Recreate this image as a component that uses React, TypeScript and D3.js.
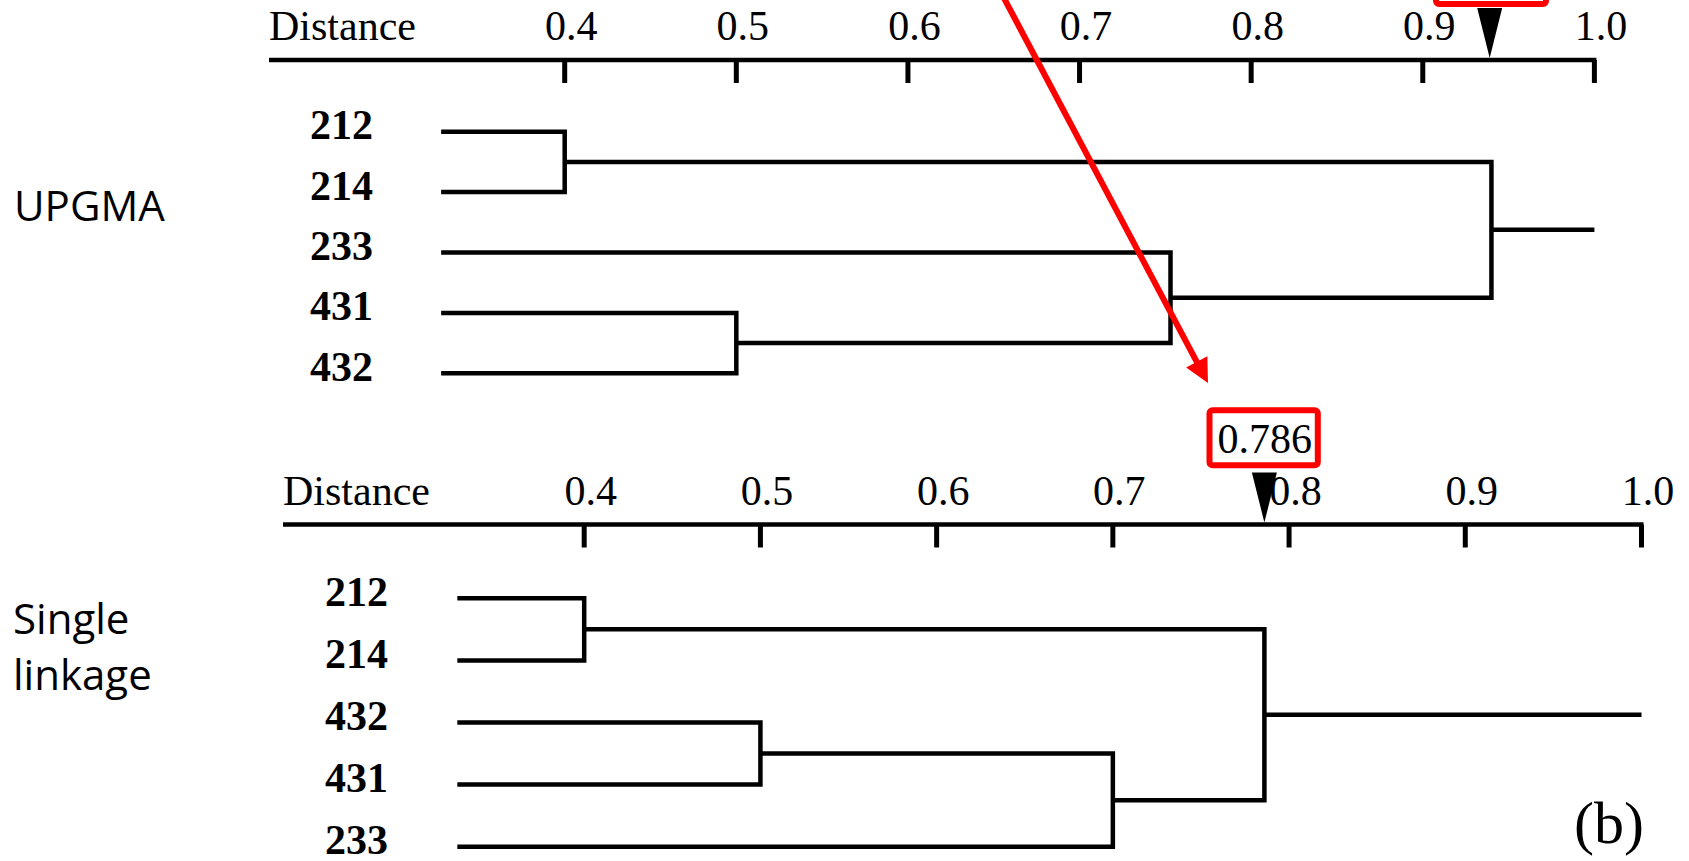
import React from 'react';
import * as d3 from 'd3';

// tick values on both distance axes
const distanceTicks = [0.4, 0.5, 0.6, 0.7, 0.8, 0.9, 1.0];

// UPGMA tree: leaves top to bottom, merges as [childA, childB, height]
// (indices 0..4 are leaves, 5.. are the clusters made by earlier merges)
const upgmaLeaves = ['212', '214', '233', '431', '432'];
const upgmaMerges: [number, number, number][] = [
  [0, 1, 0.4],
  [3, 4, 0.5],
  [2, 6, 0.753],
  [5, 7, 0.94],
];
const upgmaCut = 0.939;

// Single linkage tree
const singleLeaves = ['212', '214', '432', '431', '233'];
const singleMerges: [number, number, number][] = [
  [0, 1, 0.4],
  [2, 3, 0.5],
  [6, 4, 0.7],
  [5, 7, 0.786],
];
const singleCut = 0.786;
const singleCutLabel = '0.786';

const leafStart = 0.328;
const stemEnd = 1.0;

const SERIF = '"Liberation Serif", "Times New Roman", serif';
const SANS = '"Open Sans", "Noto Sans", sans-serif';

type PanelProps = {
  leaves: string[];
  merges: [number, number, number][];
  cut: number;
  axisY: number;
  axisStart: number;
  xRange: [number, number];
  leafY: [number, number];
  labelRight: number;
};

function Panel({ leaves, merges, cut, axisY, axisStart, xRange, leafY, labelRight }: PanelProps) {
  const x = d3.scaleLinear().domain([0.4, 1.0]).range(xRange);
  const y = d3.scalePoint<string>().domain(leaves).range(leafY);

  const pts = leaves.map(l => ({ x: x(leafStart), y: y(l) as number }));
  const paths: string[] = [];
  merges.forEach(([a, b, h]) => {
    const p = pts[a];
    const q = pts[b];
    const nx = x(h);
    const ny = (p.y + q.y) / 2;
    const path = d3.path();
    path.moveTo(p.x, p.y);
    path.lineTo(nx, p.y);
    path.lineTo(nx, q.y);
    path.lineTo(q.x, q.y);
    paths.push(path.toString());
    pts.push({ x: nx, y: ny });
  });
  const root = pts[pts.length - 1];

  const cx = x(cut);

  return (
    <g>
      {/* axis */}
      <text x={axisStart} y={axisY - 20} fontFamily={SERIF} fontSize={42}>Distance</text>
      <line x1={axisStart} x2={x(1.0) + 2} y1={axisY} y2={axisY} stroke="black" strokeWidth={4.5} />
      {distanceTicks.map(t => (
        <g key={t}>
          <line x1={x(t)} x2={x(t)} y1={axisY} y2={axisY + 23} stroke="black" strokeWidth={5} />
          <text x={x(t) + 6.5} y={axisY - 20} textAnchor="middle" fontFamily={SERIF} fontSize={42}>
            {d3.format('.1f')(t)}
          </text>
        </g>
      ))}
      {/* cut marker */}
      <path d={`M${cx - 12.5},${axisY - 52}L${cx + 12.5},${axisY - 52}L${cx},${axisY - 2}Z`} fill="black" />

      {/* leaf labels */}
      {leaves.map(l => (
        <text key={l} x={labelRight} y={(y(l) as number) + 7.5} textAnchor="end"
          fontFamily={SERIF} fontWeight="bold" fontSize={42}>{l}</text>
      ))}

      {/* branches */}
      {paths.map((d, i) => (
        <path key={i} d={d} fill="none" stroke="black" strokeWidth={4.5} strokeLinejoin="miter" />
      ))}
      <line x1={root.x} x2={x(stemEnd)} y1={root.y} y2={root.y} stroke="black" strokeWidth={4.5} />
    </g>
  );
}

export default function App() {
  const W = 1689;
  const H = 861;

  // red arrow pointing from the upper cut box down to the lower one
  const start: [number, number] = [994.4, -20];
  const tip: [number, number] = [1208, 383];
  const ang = Math.atan2(tip[1] - start[1], tip[0] - start[0]);
  const headLen = 24;
  const headHalf = 12;
  const bx = tip[0] - headLen * Math.cos(ang);
  const by = tip[1] - headLen * Math.sin(ang);
  const nx = -Math.sin(ang);
  const ny = Math.cos(ang);

  return (
    <div style={{ position: 'absolute', left: 0, top: 0 }}>
      <svg width={W} height={H} style={{ display: 'block', background: 'white' }}>
        <Panel
          leaves={upgmaLeaves}
          merges={upgmaMerges}
          cut={upgmaCut}
          axisY={60}
          axisStart={269}
          xRange={[564.7, 1594.4]}
          leafY={[131.7, 373.3]}
          labelRight={373}
        />
        <Panel
          leaves={singleLeaves}
          merges={singleMerges}
          cut={singleCut}
          axisY={524.5}
          axisStart={283}
          xRange={[584.2, 1641.5]}
          leafY={[598.3, 846.7]}
          labelRight={388}
        />

        {/* method names */}
        <text x={14} y={221} fontFamily={SANS} fontSize={42}>UPGMA</text>
        <text x={13} y={634} fontFamily={SANS} fontSize={42}>Single</text>
        <text x={13} y={690} fontFamily={SANS} fontSize={42}>linkage</text>

        {/* panel tag */}
        <text x={1574} y={843} fontFamily={SERIF} fontSize={60}>(b)</text>

        {/* red highlight boxes */}
        <rect x={1436} y={-40} width={110} height={44} rx={3} fill="none" stroke="red" strokeWidth={6} />
        <rect x={1209.5} y={410.3} width={108.3} height={55} rx={3} fill="none" stroke="red" strokeWidth={6} />
        <text x={1264.7} y={453} textAnchor="middle" fontFamily={SERIF} fontSize={42}>{singleCutLabel}</text>

        {/* red arrow */}
        <line x1={start[0]} y1={start[1]} x2={bx + 2 * Math.cos(ang)} y2={by + 2 * Math.sin(ang)} stroke="red" strokeWidth={6} />
        <path
          d={`M${tip[0]},${tip[1]}L${bx + nx * headHalf},${by + ny * headHalf}L${bx - nx * headHalf},${by - ny * headHalf}Z`}
          fill="red"
        />
      </svg>
    </div>
  );
}
